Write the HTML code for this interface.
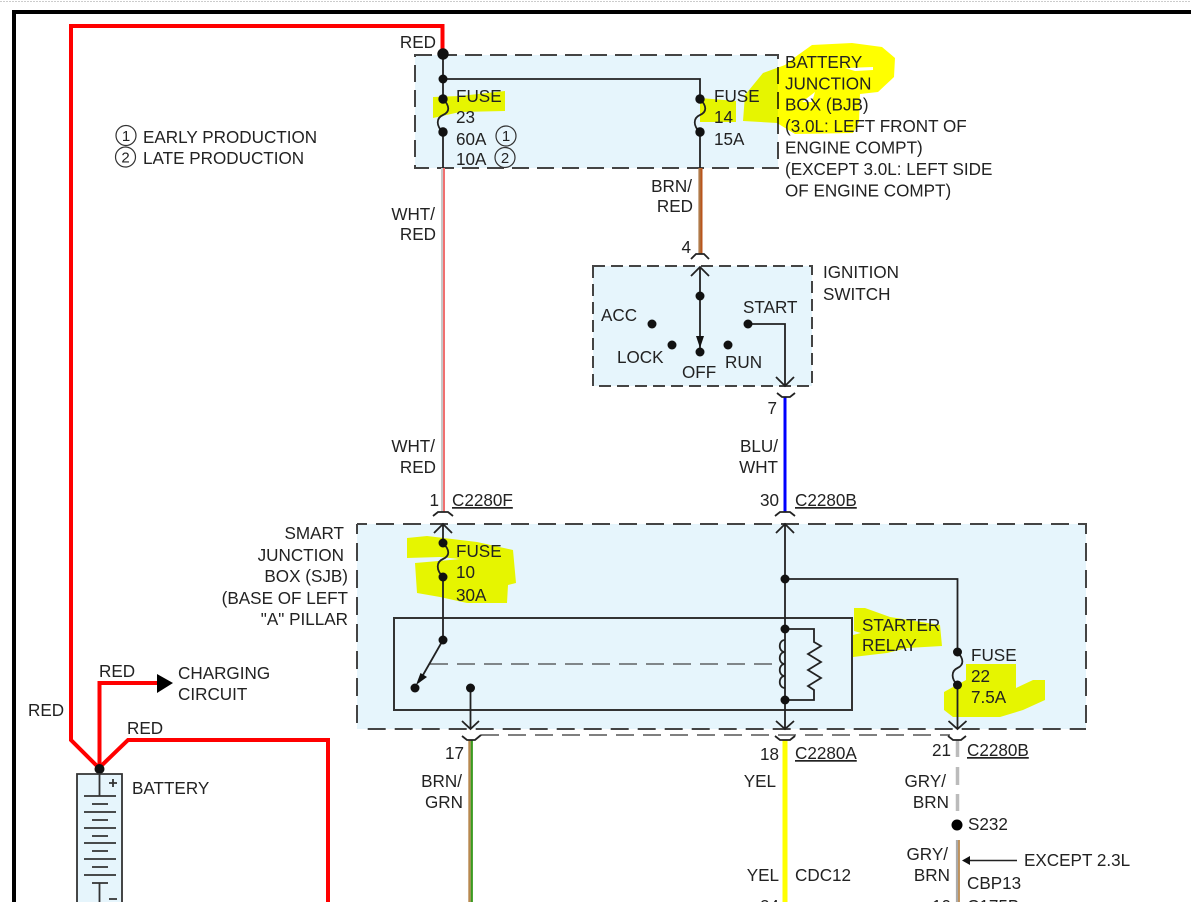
<!DOCTYPE html>
<html><head><meta charset="utf-8"><style>
html,body{margin:0;padding:0;background:#fff;width:1191px;height:902px;overflow:hidden}
svg{display:block}
text{font-family:"Liberation Sans",sans-serif;font-size:17.1px;fill:#222}
.e{text-anchor:end}
.u{text-decoration:underline}
.c{font-size:15px;text-anchor:middle}
.hl{fill:#ff0;mix-blend-mode:multiply}
.box{fill:#e6f5fc}
.dash{fill:none;stroke:#444;stroke-width:2}
.w{fill:none;stroke:#222;stroke-width:1.8}
.r{fill:none;stroke:#f00;stroke-width:4}
</style></head><body>
<svg width="1191" height="902" viewBox="0 0 1191 902" xmlns="http://www.w3.org/2000/svg">
<line x1="0" y1="1.5" x2="1191" y2="1.5" stroke="#ccc" stroke-width="1" stroke-dasharray="2 1"/>
<path d="M14 902V12H1191" fill="none" stroke="#000" stroke-width="4"/>

<!-- box fills -->
<rect class="box" x="415" y="55" width="363" height="113"/>
<rect class="box" x="593" y="266" width="219" height="120"/>
<rect class="box" x="357" y="524" width="729" height="205"/>
<rect class="box" x="77" y="774" width="45" height="128"/>

<!-- dashed boxes -->
<rect class="dash" x="415" y="55" width="363" height="113" stroke-dasharray="17 8"/>
<rect class="dash" x="593" y="266" width="219" height="120" stroke-dasharray="12 6"/>
<path class="dash" d="M357 524H1086V729" stroke-dasharray="18 9" stroke-dashoffset="8"/>
<path class="dash" d="M367.700 729H1086" stroke-dasharray="18 9"/>
<path class="dash" d="M357 524V729" stroke-dasharray="18 9" stroke-dashoffset="8"/>
<rect x="394" y="618" width="458" height="92" fill="none" stroke="#333" stroke-width="2"/>
<line x1="430" y1="664" x2="780" y2="664" stroke="#444" stroke-width="1.3" stroke-dasharray="18 9"/>
<line x1="481" y1="735" x2="950" y2="735" stroke="#333" stroke-width="1.3" stroke-dasharray="18 9"/>

<!-- highlights -->
<polygon class="hl" points="433,97 460,96 505,91 505,111 460,112 433,118"/>
<polygon class="hl" points="700,98 736,101 736,122 700,122"/>
<polygon class="hl" points="743,121 745,95 763,73 785,65 798,55 812,45 852,43 882,47 895,58 894,77 878,92 860,94 859,122 853,133 795,134 777,123"/>
<polygon points="845,68 873,67 873,70 855,71" fill="#fff"/>
<polygon points="802,102 815,92 812,102" fill="#fff"/>
<polygon class="hl" points="407,538 427,536 477,542 513,550 516,583 508,585 507,603 467,603 440,597 417,593 415,563 450,560 460,559 440,557 407,558"/>
<polygon class="hl" points="854,608 865,608 890,617 940,625 942,646 907,648 887,653 853,657 853,635 861,633 854,631"/>
<polygon class="hl" points="966,664 1016,664 1016,688 1033,680 1045,680 1045,700 1023,710 1000,717 953,717 944,710 944,692 953,687 966,680"/>

<!-- red wires -->
<path class="r" d="M442.500 50V26H71V740L99 768"/>
<path class="r" d="M99.500 768V683H160"/>
<polygon points="157,674 173,683 157,693" fill="#000"/>
<path class="r" d="M99 768L128 740H328V902"/>
<circle cx="99.500" cy="769" r="5" fill="#111"/>

<!-- battery -->
<g stroke="#333" stroke-width="1.8" fill="none">
<path d="M99.500 774V796M84 796H116M92 804H108M84 812H116M92 820H108M84 828H116M92 836H108M84 843H116M92 851H108M84 859H116M92 867H108M84 875H116M92 883H108M99.500 883V902"/>
<path d="M109 783H117M113 779V787M109 899H117"/>
</g>
<path d="M77 902V774H122V902" fill="none" stroke="#333" stroke-width="1.8"/>

<!-- BJB -->
<path class="w" d="M443 54V99M443 132V168M443 79H700V99M700 132V168"/>
<path class="w" d="M443 99C450 106 450 112 443 115C436 118 436 126 443 132"/>
<path class="w" d="M700 99C707 106 707 112 700 115C693 118 693 126 700 132"/>
<g fill="#111">
<circle cx="443" cy="54" r="5.700"/><circle cx="443" cy="79" r="4.500"/><circle cx="443" cy="99" r="4.700"/><circle cx="443" cy="132" r="4.700"/>
<circle cx="700" cy="99" r="4.700"/><circle cx="700" cy="132" r="4.700"/>
</g>
<circle cx="506" cy="136" r="10" fill="none" stroke="#333" stroke-width="1.200"/>
<circle cx="505" cy="157.500" r="10" fill="none" stroke="#333" stroke-width="1.200"/>

<!-- colored wires -->
<line x1="442" y1="168" x2="442" y2="512" stroke="#c8c8c8" stroke-width="2"/>
<line x1="444" y1="168" x2="444" y2="512" stroke="#f07070" stroke-width="2"/>
<line x1="699.500" y1="168" x2="699.500" y2="254" stroke="#b07a4a" stroke-width="2.200"/>
<line x1="701.500" y1="168" x2="701.500" y2="254" stroke="#b8561c" stroke-width="2"/>
<line x1="785" y1="397" x2="785" y2="512" stroke="#00f" stroke-width="3"/>
<line x1="469.500" y1="740" x2="469.500" y2="902" stroke="#b8894f" stroke-width="2.400"/>
<line x1="471.800" y1="740" x2="471.800" y2="902" stroke="#3a9a20" stroke-width="2.200"/>
<line x1="785" y1="740" x2="785" y2="902" stroke="#ff0" stroke-width="5"/>
<path d="M957.500 740V757M957.500 767V785M957.500 794V811" stroke="#bbb" stroke-width="3.500" fill="none"/>
<line x1="957" y1="840" x2="957" y2="902" stroke="#aaa" stroke-width="2.200"/>
<line x1="959" y1="840" x2="959" y2="902" stroke="#a86a20" stroke-width="1.400"/>
<circle cx="957" cy="825" r="5.500" fill="#000"/>
<path d="M1017 860.500H968" stroke="#222" stroke-width="1.600"/>
<polygon points="962,860.500 970,856 970,865" fill="#111"/>

<!-- connectors -->
<path class="w" d="M691 259L696 254H704L709 259"/>
<path class="w" d="M777 393L782 397H790L795 393"/>
<path class="w" d="M433 516L438 512H448L453 516"/>
<path class="w" d="M775 516L780 512H790L795 516"/>
<path class="w" d="M462 736L467 740H475L481 735"/>
<path class="w" d="M775 736L780 740H790L795 736"/>
<path class="w" d="M948 736L953 740H961L966 736"/>

<!-- ignition -->
<path class="w" d="M691 276L700 267L709 276M700 267V352M748 324H785V386M776 377L785 386L794 377"/>
<polygon points="696,336 704,336 700,348" fill="#111"/>
<g fill="#111">
<circle cx="700" cy="296" r="4.500"/><circle cx="700" cy="352" r="4.500"/><circle cx="652" cy="324" r="4.500"/><circle cx="672" cy="345" r="4.500"/><circle cx="728" cy="345" r="4.500"/><circle cx="748" cy="324" r="4.500"/>
</g>

<!-- SJB -->
<path class="w" d="M434 533L443 524L452 533M443 524V543M443 577V640L419 682"/>
<path class="w" d="M443 543C450 550 450 556 443 559C436 562 436 570 443 577"/>
<polygon points="416,685 420.500,673 427,677" fill="#111"/>
<path class="w" d="M470.500 688V729M462 721L470.500 729L479 721"/>
<path class="w" d="M776 533L785 524L794 533M785 524V729M776 721L785 729L794 721"/>
<path class="w" d="M785 579H957.500V652M957.500 685V729M948.500 721L957.500 729L966.500 721"/>
<path class="w" d="M957.500 652C964 659 964 665 957.500 668C951 671 951 679 957.500 685"/>
<path class="w" d="M785 629H814V642L821 646L808 654L821 662L808 670L821 678L808 686L814 690V700H785"/>
<path class="w" d="M785 640C778 640 778 652 785 652C778 652 778 664 785 664C778 664 778 676 785 676C778 676 778 688 785 688"/>
<g fill="#111">
<circle cx="443" cy="543" r="4.500"/><circle cx="443" cy="577" r="4.500"/><circle cx="443" cy="640" r="4.500"/><circle cx="415" cy="688" r="4.500"/><circle cx="470.500" cy="688" r="4.500"/>
<circle cx="785" cy="579" r="4.500"/><circle cx="785" cy="629" r="4.500"/><circle cx="785" cy="700" r="4.500"/><circle cx="957.500" cy="652" r="4.500"/><circle cx="957.500" cy="685" r="4.500"/>
</g>

<!-- text -->
<text class="e" x="436" y="48">RED</text>
<text x="456" y="102">FUSE</text><text x="456" y="123">23</text><text x="456" y="145">60A</text><text x="456" y="165">10A</text>
<text class="c" x="506" y="141">1</text><text class="c" x="505" y="163">2</text>
<text x="714" y="102">FUSE</text><text x="714" y="123">14</text><text x="714" y="145">15A</text>
<text x="785" y="68">BATTERY</text><text x="785" y="89.500">JUNCTION</text><text x="785" y="110.500">BOX (BJB)</text><text x="785" y="132">(3.0L: LEFT FRONT OF</text><text x="785" y="153.500">ENGINE COMPT)</text><text x="785" y="175">(EXCEPT 3.0L: LEFT SIDE</text><text x="785" y="196.500">OF ENGINE COMPT)</text>

<circle cx="126" cy="135.500" r="10" fill="none" stroke="#333" stroke-width="1.200"/>
<circle cx="125.500" cy="157" r="10" fill="none" stroke="#333" stroke-width="1.200"/>
<text class="c" x="126" y="141">1</text><text class="c" x="125.500" y="162.500">2</text>
<text x="143" y="143">EARLY PRODUCTION</text><text x="143" y="164">LATE PRODUCTION</text>

<text class="e" x="435" y="220">WHT/</text><text class="e" x="436" y="240">RED</text>
<text class="e" x="435" y="452">WHT/</text><text class="e" x="436" y="473">RED</text>
<text class="e" x="692" y="192">BRN/</text><text class="e" x="693" y="212">RED</text>
<text class="e" x="691" y="253">4</text>
<text x="823" y="278">IGNITION</text><text x="823" y="300">SWITCH</text>
<text x="601" y="321">ACC</text><text x="743" y="313">START</text><text x="617" y="363">LOCK</text><text x="682" y="378">OFF</text><text x="725" y="368">RUN</text>
<text class="e" x="777" y="414">7</text>
<text class="e" x="778" y="452">BLU/</text><text class="e" x="778" y="473">WHT</text>
<text class="e" x="439" y="506">1</text><text class="u" x="452" y="506">C2280F</text>
<text class="e" x="779" y="506">30</text><text class="u" x="795" y="506">C2280B</text>

<text class="e" x="344" y="539">SMART</text><text class="e" x="344" y="561">JUNCTION</text><text class="e" x="348" y="582">BOX (SJB)</text><text class="e" x="348" y="604">(BASE OF LEFT</text><text class="e" x="348" y="625">"A" PILLAR</text>
<text x="456" y="557">FUSE</text><text x="456" y="578">10</text><text x="456" y="601">30A</text>
<text x="862" y="631">STARTER</text><text x="862" y="651">RELAY</text>
<text x="971" y="661">FUSE</text><text x="971" y="682">22</text><text x="971" y="703">7.5A</text>

<text x="99" y="677">RED</text><text x="178" y="679">CHARGING</text><text x="178" y="700">CIRCUIT</text>
<text x="28" y="716">RED</text><text x="127" y="734">RED</text><text x="132" y="794">BATTERY</text>

<text class="e" x="464" y="759">17</text><text class="e" x="462" y="787">BRN/</text><text class="e" x="463" y="808">GRN</text>
<text class="e" x="779" y="760">18</text><text class="u" x="795" y="759">C2280A</text>
<text class="e" x="951" y="756">21</text><text class="u" x="967" y="756">C2280B</text>
<text class="e" x="776" y="787">YEL</text><text class="e" x="779" y="881">YEL</text><text x="795" y="881">CDC12</text>
<text class="e" x="946" y="787">GRY/</text><text class="e" x="949" y="808">BRN</text>
<text x="968" y="830">S232</text>
<text class="e" x="948" y="860">GRY/</text><text class="e" x="950" y="881">BRN</text>
<text x="1024" y="866">EXCEPT 2.3L</text><text x="967" y="889">CBP13</text>
<text class="e" x="779" y="912">24</text><text class="e" x="951" y="912">10</text><text x="967" y="912">C175B</text>
</svg>
</body></html>
